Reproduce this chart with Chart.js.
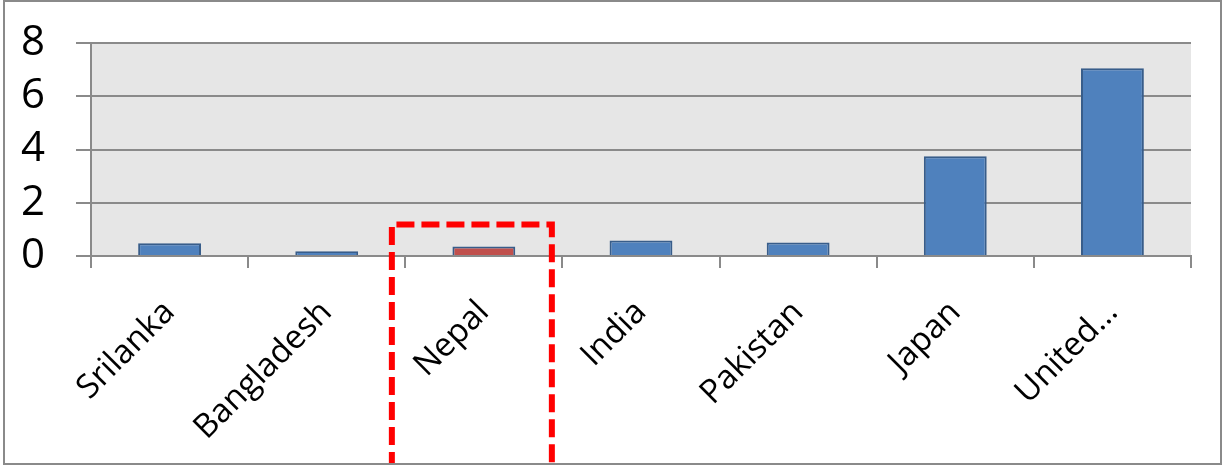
<!DOCTYPE html>
<html>
<head>
<meta charset="utf-8">
<script src="https://cdn.jsdelivr.net/npm/chart.js@4"></script>
<style>
    body { margin: 0; background: #ffffff; }
    #wrap { position: relative; width: 1224px; height: 465px; }
    #frame {
        position: absolute; left: 3px; top: 0px; width: 1215px; height: 461px;
        border: 2px solid #8a8a8a; pointer-events: none;
    }
</style>
</head>
<body>
<div id="wrap">
    <canvas id="chartPaises" width="1224" height="465"></canvas>
    <div id="frame"></div>
</div>
<script>
const paises = ["Srilanka", "Bangladesh", "Nepal", "India", "Pakistan", "Japan", "United…"];
const valores = [0.48, 0.18, 0.36, 0.58, 0.51, 3.75, 7.05];
const ticksY = [0, 2, 4, 6, 8];
const paisResaltado = "Nepal";

const azul = "#4f81bd";
const rojo = "#c0504d";

// fondo gris del area de trazado
const fondoPlot = {
    id: "fondoPlot",
    beforeDraw(chart) {
        const { ctx, chartArea } = chart;
        ctx.save();
        ctx.fillStyle = "#e6e6e6";
        ctx.fillRect(chartArea.left, chartArea.top, chartArea.right - chartArea.left, chartArea.bottom - chartArea.top);
        ctx.restore();
    },
};

// recuadro rojo punteado alrededor de Nepal
const recuadro = {
    id: "recuadro",
    afterDraw(chart) {
        const { ctx, scales } = chart;
        const cx = scales.x.getPixelForValue(paises.indexOf(paisResaltado));
        const izq = cx - 92;
        const der = cx + 68;
        const arriba = scales.y.getPixelForValue(1.18);
        const abajo = chart.height + 5;
        ctx.save();
        ctx.strokeStyle = "#ff0000";
        ctx.lineWidth = 6;
        ctx.setLineDash([18, 7]);
        ctx.beginPath();
        ctx.moveTo(izq, abajo);
        ctx.lineTo(izq, arriba);
        ctx.lineTo(der, arriba);
        ctx.lineTo(der, abajo);
        ctx.stroke();
        ctx.restore();
    },
};

const dataPaises = {
    labels: paises,
    datasets: [
        {
            data: valores,
            backgroundColor: paises.map((p) => (p === paisResaltado ? rojo : azul)),
            borderColor: "#385d8a",
            borderWidth: 2,
            barPercentage: 0.4,
            categoryPercentage: 1,
        },
    ],
};

const config = {
    type: "bar",
    data: dataPaises,
    plugins: [fondoPlot, recuadro],
    options: {
        responsive: false,
        animation: false,
        layout: {
            padding: { top: 43, right: 33, bottom: 0, left: 0 },
        },
        plugins: {
            legend: { display: false },
            tooltip: { enabled: false },
        },
        scales: {
            x: {
                afterFit: (scale) => {
                    scale.height = 209;
                    scale.paddingLeft = 0;
                    scale.paddingRight = 0;
                },
                grid: {
                    drawOnChartArea: false,
                    drawTicks: true,
                    tickLength: 12,
                    offset: true,
                    color: "#8a8a8a",
                    lineWidth: 2,
                },
                border: { display: true, color: "#8a8a8a", width: 2 },
                ticks: {
                    autoSkip: false,
                    maxRotation: 45,
                    minRotation: 45,
                    padding: 25,
                    color: "#000000",
                    font: { family: "'Open Sans'", size: 33 },
                },
            },
            y: {
                min: 0,
                max: 8,
                afterFit: (scale) => {
                    scale.width = 91;
                    scale.paddingTop = 0;
                    scale.paddingBottom = 0;
                },
                afterBuildTicks: (scale) => {
                    scale.ticks = ticksY.map((v) => ({ value: v }));
                },
                grid: {
                    color: "#8a8a8a",
                    lineWidth: 2,
                    drawTicks: true,
                    tickLength: 15,
                },
                border: { display: true, color: "#8a8a8a", width: 2 },
                ticks: {
                    autoSkip: false,
                    padding: 31,
                    color: "#000000",
                    font: { family: "'Open Sans'", size: 42 },
                },
            },
        },
    },
};

new Chart(document.getElementById("chartPaises"), config);
</script>
</body>
</html>
